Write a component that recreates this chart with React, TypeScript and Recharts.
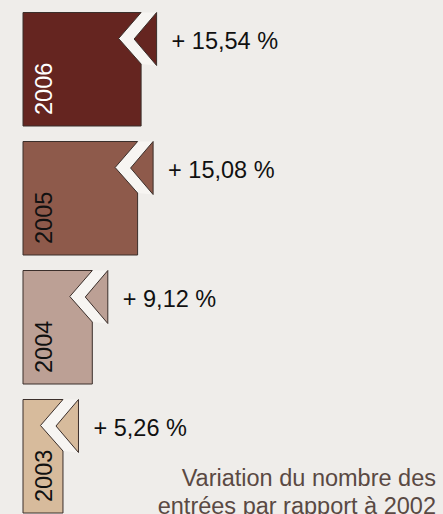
import { BarChart, Bar, XAxis, YAxis, LabelList } from 'recharts';

const years = ['2006', '2005', '2004', '2003'];
const variations = [15.54, 15.08, 9.12, 5.26];
const yearColors = ['#652520', '#8e5a4b', '#bca095', '#d7bb9c'];
const yearTextColors = ['#ffffff', '#111111', '#111111', '#111111'];
const captionLines = ['Variation du nombre des', 'entrées par rapport à 2002'];

const FONT = '"Liberation Sans", Arial, sans-serif';
const BG = '#efedea';
const STROKE = '#3b2f2b';

const data = years.map((year, i) => ({
  year,
  value: variations[i],
  fill: yearColors[i],
}));

const fmt = (v: number) => `+ ${v.toFixed(2).replace('.', ',')} %`;

// bar with a chevron notch cut in the top-right corner and a triangle beside it
function NotchedBar(props: any) {
  const { x, y, width, height, payload } = props;
  const r = x + width;
  const b = y + height;
  const main = `M${x},${y} L${r},${y} L${r - 22.5},${y + 26} L${r},${y + 51.5} L${r},${b} L${x},${b} Z`;
  const gap = `M${r},${y} L${r + 15.5},${y} L${r - 7},${y + 26.5} L${r + 15.5},${y + 53} L${r},${y + 51.5} L${r - 22.5},${y + 26} Z`;
  const tri = `M${r + 15.5},${y} L${r - 7},${y + 26.5} L${r + 15.5},${y + 53} Z`;
  return (
    <g>
      <path d={gap} fill="#f7f5f2" stroke="none" />
      <path d={main} fill={payload.fill} stroke={STROKE} strokeWidth={1} />
      <path d={tri} fill={payload.fill} stroke={STROKE} strokeWidth={1} />
    </g>
  );
}

function PercentLabel(props: any) {
  const { x, y, width, value } = props;
  return (
    <text x={x + width + 30.5} y={y + 36} fill="#111" fontSize={23.5} fontFamily={FONT}>
      {fmt(value)}
    </text>
  );
}

function YearLabel(props: any) {
  const { x, y, height, index } = props;
  const tx = x + 29;
  const ty = y + height - 11;
  return (
    <text
      x={tx}
      y={ty}
      fill={yearTextColors[index]}
      fontSize={23.5}
      fontFamily={FONT}
      transform={`rotate(-90 ${tx} ${ty})`}
    >
      {years[index]}
    </text>
  );
}

export default function App() {
  return (
    <div
      style={{
        position: 'absolute',
        left: 0,
        top: 0,
        width: 443,
        height: 514,
        overflow: 'hidden',
        background: BG,
      }}
    >
      <BarChart
        width={443}
        height={525}
        data={data}
        layout="vertical"
        margin={{ top: 4.5, right: 2, bottom: 4.5, left: 23 }}
      >
        <XAxis type="number" domain={[0, 55]} hide />
        <YAxis type="category" dataKey="year" hide />
        <Bar dataKey="value" barSize={113.5} shape={<NotchedBar />} isAnimationActive={false}>
          <LabelList dataKey="value" content={<PercentLabel />} />
          <LabelList dataKey="year" content={<YearLabel />} />
        </Bar>
      </BarChart>
      <svg width={443} height={514} style={{ position: 'absolute', left: 0, top: 0, pointerEvents: 'none' }}>
        {captionLines.map((line, i) => (
          <text
            key={line}
            x={436}
            y={485.5 + i * 28}
            textAnchor="end"
            fill="#5a4943"
            fontSize={23.5}
            fontFamily={FONT}
          >
            {line}
          </text>
        ))}
      </svg>
    </div>
  );
}
